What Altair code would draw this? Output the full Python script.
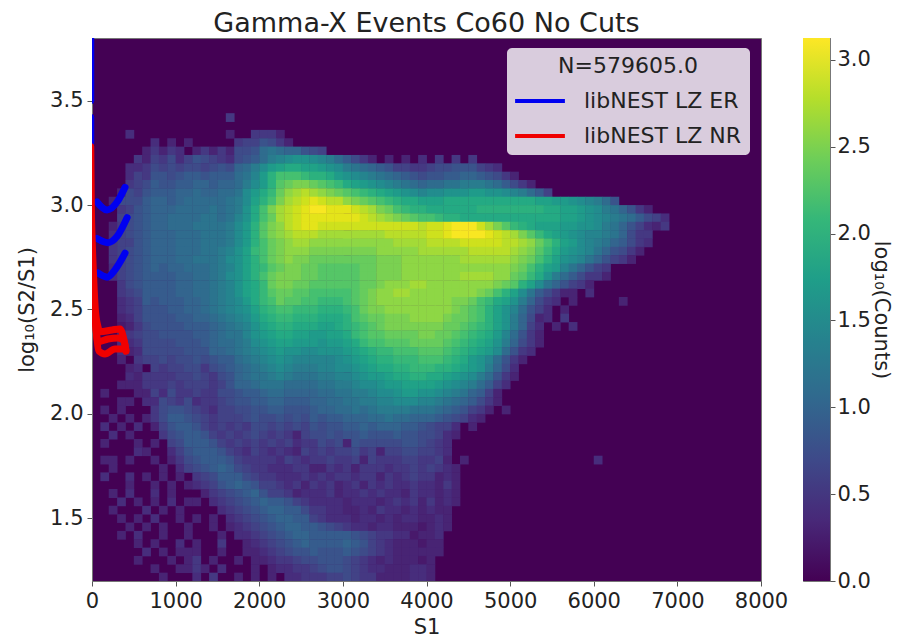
import altair as alt
import pandas as pd

# log10(counts), one char per 100 x 0.04 cell: 0-9 => 0.0-0.9, a-v => 1.0-3.1
ALPHABET = "0123456789abcdefghijklmnopqrstuv"
rows = [
"", "", "", "", "", "", "", "", "",
"0000000000 0000005",
"",
"0000400000 0000003005 553",
"0000000403 0300000566 8753",
"0000003535 4035353778 bcbaa876",
"0000053657 4687654789 bdefggfedb 9753030304 0505050",
"0000445767 6776787abd fhijjiihgf dcba986655 6778886540",
"0000465887 8998999bce hkmmmlkkjh gfedcba987 8899aa9875 3",
"0000567988 99aa9aabdf hknopponml jihgfedcba bbccdddcb9 753",
"0003768999 aabaabbcfh jloqrsrqpo nmlkjihgfe ffggghhggf edb96",
"0037779aa9 abbbbbcdfi kmprstutss qponmlkjji iijjjjjjjj jjjiihhgfe db8",
"0005689aaa bbbbcbcdgj mprstuvvuu utsrpomlkk jjjjjjkkkk kkkkjjiihg fdca853",
"0006789aab bbbccbcegj morstuuuuu uutsrqponm mlkkjjjjjj jjjjjjiihg fedcb9764",
"0035789aab bbccccdfhk npqstuuttt ttttttttts ttuvvvtrpn lkjiiihhgg fdca864350",
"0046789aaa bbbcccdfhk npqrsssrrr rrrrrsssss ttuvvvvuts rpnljihgfe edca755",
"0056689aaa bbbcccdfhk mopqrrqqqq qqqqqqrrrr ssssttttts srqomkihfe dca9754",
"0056789aaa bbbccdegil mopqqqpppp ppppqqqqqr rrrrrsssss rqpnljhgfe ca8753",
"0056789aaa bbcccdfgik mopqppoooo oooopppqqq qqqqrrrrrr qpomkigfec a8653",
"0046789a9a abbbcdegik lnoppoonnn nnoopppqqq qqqqqqqqqq pomkiheca8 65",
"0046789999 aabbcdfgik mopppoonnn nnoopppqqq qqqqrrrrqq onljgdb975 53",
"0005789999 aabbcdegij loppoonnnn nnoopqqqrr qqqqqqqqpo nkifca8653",
"0005679999 aabbcdegij lnoonnmmmm mnopqqrrqq qqqqqqpomk ifc9753304",
"0004569899 9aabcdefhj lmonnmmlll mnopqqqqqq qqqppomlji gda7540300 0003",
"0004568889 9aabcdefgi klmmlllkkk lmoppqqqqq qqqponmkig eb86403",
"0003468888 99aabcdefh jkllkkkjjj kmnoopppqq qqpoonmkig da73405",
"0002357888 8999abcdeg ijkkjjjiij klmnoppppp ppoonmlkig da640304",
"0003567788 8899abcceg hijjiihhii jlmnnoooop poonmlkjhe b8530",
"0004457777 8889abbcdf ghiihhhghh ijlmmnnnoo oonmlkjigd a753",
"0004347777 7888aabcde fghggffggg hijkllmmmn nnmlkjihfb 854",
"0003056676 7787899bcd efgfeeeeef ghijkklllm mmlkjhgeb8 53",
"0000340656 6775789abc defedddeef fghijjkkll lkkjihgda7 4",
"0000435555 6676578abc cdedcccdde efghhijjkk jjihgfdb85 3",
"0003335556 5666568aab cccbbbbccd deffghhiii ihgfedb964",
"0300033647 5565577899 abbaaaabbc cddeffghhg gfedca963",
"0003304476 5745567889 9aa999aabb ccddeefffe edcba97530",
"0303000578 8765466778 8998889aab bcbcddddcc cba9865303",
"0030303579 9876566678 7787879899 aaabbcbbaa a987643",
"0403040368 9986565657 7676768788 99a9aaa998 7664030",
"0040300057 8998656567 6565367787 8898889887 76430",
"0300030306 7999865656 5656455767 3877777887 6540",
"0000043004 6899986546 5454365656 6756366776 654",
"0330300303 5789998655 5546545565 5636555665 5630300000 0000000000 4",
"0030000030 46789a9765 5444553354 5355545565 6543",
"0400403030 3056799976 5544454545 5455354565 5343",
"0000300303 0345689a98 6654535453 4535454454 4353",
"0030400403 000356789a 8665344453 4454544354 4343",
"0004030304 0330456789 a998654444 3444345453 5343",
"0030004030 3000045678 9aa9975544 3343544343 433",
"0003030400 3030304567 89aa996544 4344343443 343",
"0000303030 0300303456 789aa99876 5443443332 343",
"0003040030 0300030445 6789aa9999 9876554423 34",
"0000030300 4030050034 56789a9999 a986543332 33",
"0000004030 3330030033 4567889888 9876543333 33",
"0000030003 0350300303 3455677888 7654343332 3",
"0000000300 3353040003 0344556788 7654433344 3",
"0000000030 0040500303 0304455566 7655333344 3",
]

er_a_s1 = [-15, -15]
er_a_y = [3.8, 3.5]
er_b_s1 = [-15, -15]
er_b_y = [3.42, 3.30]
er_c_s1 = [60, 180, 310, 395]
er_c_y = [3.015, 2.977, 3.02, 3.085]
er_d_s1 = [60, 190, 300, 420]
er_d_y = [2.84, 2.82, 2.85, 2.94]
er_e_s1 = [70, 180, 275, 395]
er_e_y = [2.675, 2.655, 2.69, 2.77]

nr_a_s1 = [-15, -8, 5, 20, 40, 70, 96, 240, 335, 383, 406]
nr_a_y = [3.28, 3.0, 2.8, 2.65, 2.5, 2.42, 2.393, 2.402, 2.407, 2.354, 2.306]
nr_b_s1 = [30, 72, 191, 311, 383, 406]
nr_b_y = [2.5, 2.345, 2.359, 2.364, 2.35, 2.30]
nr_c_s1 = [40, 84, 155, 275, 395]
nr_c_y = [2.45, 2.30, 2.287, 2.311, 2.311]

viridis_stops = ["#440154", "#482878", "#3e4989", "#31688e", "#26828e", "#1f9e89", "#35b779", "#6ece58", "#b5de2b", "#fde725"]

X_MAX = 8000
Y_MIN, Y_MAX = 1.2, 3.8
C_MAX = 3.126
FONT = "DejaVu Sans"

cells = []
for r, row in enumerate(rows):
    row = row.replace(" ", "")
    for c, ch in enumerate(row):
        v = ALPHABET.index(ch) / 10
        if v > 0:
            cells.append({"x": 100 * c, "x2": 100 * (c + 1) + 5, "y": Y_MAX - 0.04 * (r + 1) - 0.002, "y2": Y_MAX - 0.04 * r, "v": v})
cells = pd.DataFrame(cells)

ln = []
for name, parts in {
    "libNEST LZ ER": [(er_a_s1, er_a_y), (er_b_s1, er_b_y), (er_c_s1, er_c_y), (er_d_s1, er_d_y), (er_e_s1, er_e_y)],
    "libNEST LZ NR": [(nr_a_s1, nr_a_y), (nr_b_s1, nr_b_y), (nr_c_s1, nr_c_y)],
}.items():
    for g, (xs_, ys_) in enumerate(parts):
        for o, (a, b) in enumerate(zip(xs_, ys_)):
            ln.append({"s": name, "g": f"{name}{g}", "o": o, "x": a, "y": b})
ln = pd.DataFrame(ln)

xs = alt.Scale(domain=[0, X_MAX], nice=False)
ys = alt.Scale(domain=[Y_MIN, Y_MAX], nice=False)
cs = alt.Scale(scheme="viridis", domain=[0, C_MAX])

heat = alt.Chart(cells).mark_rect(clip=True).encode(
    x=alt.X("x:Q", scale=xs, title="S1", axis=alt.Axis(values=list(range(0, 8001, 1000)), format="d", grid=False, titlePadding=5, labelFlush=False)),
    x2="x2:Q",
    y=alt.Y("y:Q", scale=ys, title="log₁₀(S2/S1)", axis=alt.Axis(values=[1.5, 2.0, 2.5, 3.0, 3.5], format=".1f", grid=False, titlePadding=12)),
    y2="y2:Q",
    fill=alt.Fill("v:Q", scale=cs, legend=None),
)

lines = alt.Chart(ln).mark_line(clip=True, strokeWidth=7, strokeCap="round", strokeJoin="round", interpolate="monotone").encode(
    x=alt.X("x:Q", scale=xs),
    y=alt.Y("y:Q", scale=ys),
    color=alt.Color("s:N", scale=alt.Scale(domain=["libNEST LZ ER", "libNEST LZ NR"], range=["#0000f0", "#f00000"]),
        legend=alt.Legend(title="N=579605.0", orient="none", legendX=415, legendY=10, fillColor="rgba(255,255,255,0.8)",
            cornerRadius=5, padding=8, titleAnchor="middle", titleFontSize=22, titleFontWeight="normal", titleColor="#222",
            labelFontSize=22, labelColor="#222", labelOffset=27, symbolType="M-1.66,0H1.66", symbolSize=900, symbolOffset=8,
            symbolStrokeWidth=4, rowPadding=7, titlePadding=6, symbolOpacity=1)),
    detail="g:N",
    order="o:Q",
)

main = alt.layer(heat, lines).properties(
    width=669, height=543,
    title=alt.TitleParams("Gamma-X Events Co60 No Cuts", fontSize=27, fontWeight="normal", font=FONT, color="#222", anchor="middle", offset=0),
)

bar = alt.Chart(pd.DataFrame({"a": [0.0], "b": [C_MAX]})).mark_rect(
    color=alt.LinearGradient(gradient="linear", stops=[alt.GradientStop(offset=i / 9, color=c) for i, c in enumerate(viridis_stops)], x1=0, x2=0, y1=1, y2=0)
).encode(
    y=alt.Y("a:Q", scale=alt.Scale(domain=[0, C_MAX], nice=False), title="log₁₀(Counts)",
        axis=alt.Axis(orient="right", values=[0, 0.5, 1, 1.5, 2, 2.5, 3], format=".1f", grid=False, titlePadding=0, labelPadding=2)),
    y2="b:Q",
).properties(width=27, height=543)

chart = alt.hconcat(main, bar, spacing=13).properties(padding={"left": 8, "top": 1, "right": 2, "bottom": 3}).configure_view(
    fill="#440154", stroke="#777", strokeWidth=1
).configure_axis(
    labelFontSize=21, titleFontSize=21, labelFont=FONT, titleFont=FONT, labelColor="#222", titleColor="#222",
    titleFontWeight="normal", tickColor="#555", domainColor="#777", tickSize=5, labelPadding=4
).configure_legend(labelFont=FONT, titleFont=FONT)

chart.save("out.html", embed_options={"renderer": "svg", "actions": False})
